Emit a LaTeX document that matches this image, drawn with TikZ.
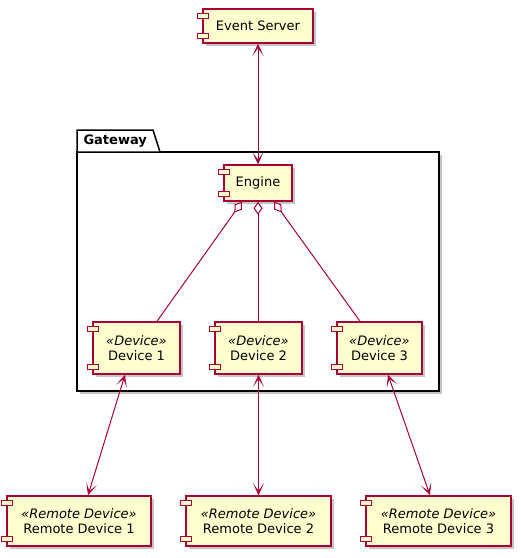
\documentclass[tikz,border=0pt]{standalone}
\usepackage{fontspec}
\setmainfont{DejaVu Sans}
\usetikzlibrary{shadows,arrows.meta,positioning}
\definecolor{umlred}{HTML}{A80036}
\definecolor{umlfill}{HTML}{FEFECE}

\tikzset{
	comp/.style={draw=umlred, fill=umlfill, line width=1.5pt, inner sep=2pt, align=center,
		font=\fontsize{13}{15.5}\selectfont,
		drop shadow={shadow xshift=3pt, shadow yshift=-3pt, fill=black!45, opacity=0.5}},
	plug/.style={draw=umlred, fill=umlfill, line width=1.2pt},
	link/.style={draw=umlred, line width=1pt},
	both/.style={link, arrows={Stealth[length=12pt, width=11pt, inset=7.5pt]-Stealth[length=12pt, width=11pt, inset=7.5pt]}},
	agg/.style={link, arrows={Diamond[fill=white, length=13pt, width=9pt]-}},
	pkg/.style={draw=black, fill=white, line width=1.5pt}
}

\begin{document}
\begin{tikzpicture}[x=1pt, y=-1pt]
	\useasboundingbox (0,0) rectangle (521,558);
	
	% Gateway package
	\draw[pkg, drop shadow={shadow xshift=3pt, shadow yshift=-3pt, fill=black!45, opacity=0.5}] (77,152) rectangle (439,391);
	\draw[pkg] (77,152) -- (77,130) -- (153,130) -- (160,152) -- cycle;
	\node[anchor=west, font=\fontsize{13}{15}\selectfont\bfseries] (gw) at (80,141) {Gateway};
	
	% Components
	\node[comp, minimum width=110pt, minimum height=34pt] (srv) at (258,26) {Event Server};
	\node[comp, minimum width=68pt, minimum height=36pt] (eng) at (258,183) {Engine};
	
	\node[comp, minimum width=87pt, minimum height=52pt] (d1) at (136.5,348) {\textit{«Device»}\\Device 1};
	\node[comp, minimum width=87pt, minimum height=52pt] (d2) at (258.5,348) {\textit{«Device»}\\Device 2};
	\node[comp, minimum width=85pt, minimum height=52pt] (d3) at (379.5,348) {\textit{«Device»}\\Device 3};
	
	\node[comp, minimum width=144pt, minimum height=50pt] (r1) at (79,521) {\textit{«Remote Device»}\\Remote Device 1};
	\node[comp, minimum width=145pt, minimum height=50pt] (r2) at (258.5,521) {\textit{«Remote Device»}\\Remote Device 2};
	\node[comp, minimum width=145pt, minimum height=50pt] (r3) at (438.5,521) {\textit{«Remote Device»}\\Remote Device 3};
	
	% Component plugs
	\foreach \n in {srv,eng,d1,d2,d3,r1,r2,r3} {
		\draw[plug] ([xshift=-5pt, yshift=-5pt]\n.north west) rectangle ([xshift=6pt, yshift=-10pt]\n.north west);
		\draw[plug] ([xshift=-5pt, yshift=5pt]\n.south west) rectangle ([xshift=6pt, yshift=10pt]\n.south west);
	}
	
	% Connectors
	\draw[both] (srv.south) -- (srv.south |- eng.north);
	\draw[agg] ([xshift=-16pt]eng.south) -- ([xshift=20.5pt]d1.north);
	\draw[agg] (eng.south) -- (eng.south |- d2.north);
	\draw[agg] ([xshift=16pt]eng.south) -- ([xshift=-19.5pt]d3.north);
	\draw[both] ([xshift=-11.5pt]d1.south) -- ([xshift=9pt]r1.north);
	\draw[both] (d2.south) -- (r2.north);
	\draw[both] ([xshift=8.5pt]d3.south) -- ([xshift=-8.5pt]r3.north);
\end{tikzpicture}
\end{document}
